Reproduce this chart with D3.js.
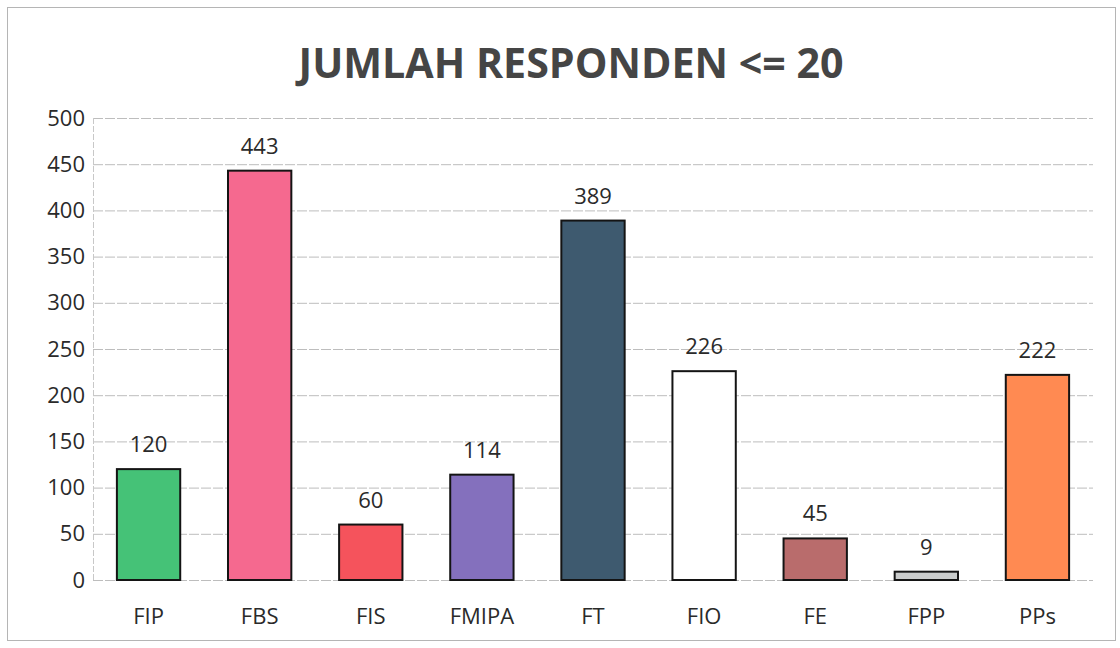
<!DOCTYPE html>
<html>
<head>
<meta charset="utf-8">
<script src="https://cdnjs.cloudflare.com/ajax/libs/d3/7.8.5/d3.min.js"></script>
<style>
  body { margin: 0; background: #fff; }
  text { font-family: "Open Sans", "Noto Sans", sans-serif; }
</style>
</head>
<body>
<script>
const categories = ["FIP", "FBS", "FIS", "FMIPA", "FT", "FIO", "FE", "FPP", "PPs"];
const values = [120, 443, 60, 114, 389, 226, 45, 9, 222];
const barColors = ["#45c277", "#f5698f", "#f5535c", "#8470bd", "#3e5a6f", "#ffffff", "#b96c6c", "#c9cbcb", "#ff8a52"];
const yTicks = [0, 50, 100, 150, 200, 250, 300, 350, 400, 450, 500];

const W = 1120, H = 648;
const margin = { left: 93, right: 27, top: 118, bottom: 68 };
const font = '"Open Sans", "Noto Sans", sans-serif';

const svg = d3.select("body").append("svg").attr("width", W).attr("height", H);

// outer chart frame
svg.append("rect")
    .attr("x", 7.5).attr("y", 7.5)
    .attr("width", W - 12).attr("height", H - 15)
    .attr("fill", "none").attr("stroke", "#b5b5b5").attr("stroke-width", 1);

const x = d3.scaleBand()
    .domain(categories)
    .range([margin.left, W - margin.right])
    .paddingInner(0.43).paddingOuter(0.215);

const y = d3.scaleLinear()
    .domain([0, 500])
    .range([H - margin.bottom, margin.top]);

// gridlines
svg.append("g")
    .selectAll("line")
    .data(yTicks)
    .enter().append("line")
    .attr("x1", margin.left).attr("x2", W - margin.right)
    .attr("y1", d => y(d) + 0.5).attr("y2", d => y(d) + 0.5)
    .attr("stroke", "#bdbdbd").attr("stroke-width", 1)
    .attr("stroke-dasharray", "10,2");

// left plot edge
svg.append("line")
    .attr("x1", margin.left + 0.5).attr("x2", margin.left + 0.5)
    .attr("y1", margin.top).attr("y2", H - margin.bottom)
    .attr("stroke", "#c8c8c8").attr("stroke-dasharray", "6,2");

// y axis labels
const yAxis = d3.axisLeft(y).tickValues(yTicks).tickSize(0).tickPadding(8);
const gy = svg.append("g").attr("transform", `translate(${margin.left},0)`).call(yAxis);
gy.select(".domain").remove();
gy.selectAll("text").attr("font-size", 22).attr("fill", "#2a2a2a")
    .style("font-family", font);

// x axis labels
const xAxis = d3.axisBottom(x).tickSize(0).tickPadding(28);
const gx = svg.append("g").attr("transform", `translate(0,${H - margin.bottom})`).call(xAxis);
gx.select(".domain").remove();
gx.selectAll("text").attr("font-size", 22).attr("fill", "#2a2a2a")
    .style("font-family", font);

const data = categories.map((c, i) => ({ c: c, v: values[i], color: barColors[i] }));

// bars
svg.append("g")
    .selectAll("rect")
    .data(data)
    .enter().append("rect")
    .attr("x", d => x(d.c))
    .attr("y", d => y(d.v))
    .attr("width", x.bandwidth())
    .attr("height", d => y(0) - y(d.v))
    .attr("fill", d => d.color)
    .attr("stroke", "#141414")
    .attr("stroke-width", 2);

// value labels
svg.append("g")
    .selectAll("text")
    .data(data)
    .enter().append("text")
    .attr("x", d => x(d.c) + x.bandwidth() / 2)
    .attr("y", d => y(d.v) - 17)
    .attr("text-anchor", "middle")
    .attr("font-size", 22)
    .attr("fill", "#2a2a2a")
    .text(d => d.v);

// title
svg.append("text")
    .attr("x", 571).attr("y", 78)
    .attr("text-anchor", "middle")
    .attr("font-size", 42)
    .attr("font-weight", "bold")
    .attr("fill", "#454545")
    .attr("textLength", 545)
    .attr("lengthAdjust", "spacingAndGlyphs")
    .text("JUMLAH RESPONDEN <= 20");
</script>
</body>
</html>
